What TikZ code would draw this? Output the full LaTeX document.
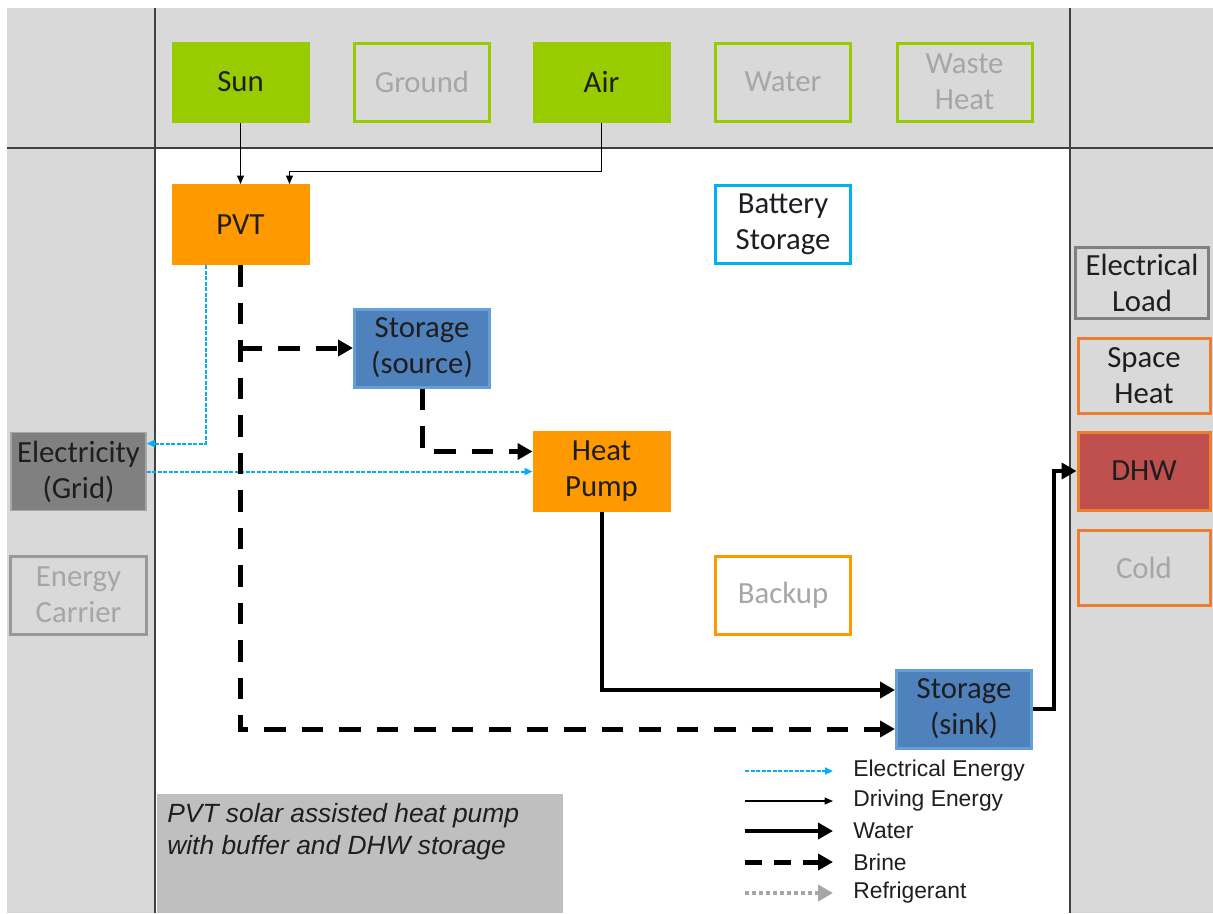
\documentclass[tikz,border=0pt]{standalone}
\usepackage{fontspec}
\setmainfont{Carlito}
\newfontfamily\arialfont{Liberation Sans}
\usetikzlibrary{positioning,arrows.meta,calc}

\definecolor{srcgreen}{RGB}{153,204,0}
\definecolor{hporange}{RGB}{255,153,0}
\definecolor{stblue}{RGB}{79,129,189}
\definecolor{stedge}{RGB}{100,160,215}
\definecolor{batblue}{RGB}{0,176,240}
\definecolor{panelgray}{RGB}{217,217,217}
\definecolor{offtext}{RGB}{166,166,166}
\definecolor{loadorange}{RGB}{237,125,49}
\definecolor{dhwred}{RGB}{192,80,77}
\definecolor{gridgray}{RGB}{128,128,128}
\definecolor{notegray}{RGB}{191,191,191}
\definecolor{rulegray}{RGB}{64,64,64}
\definecolor{inktext}{RGB}{30,30,30}

\begin{document}
\begin{tikzpicture}[
  x=0.2mm, y=-0.2mm,
  font=\fontsize{17.5}{20.5}\selectfont,
  box/.style = {
    rectangle, minimum width=27mm, minimum height=15.6mm, align=center,
    inner sep=1pt, line width=0.6mm, text=inktext,
  },
  onsrc/.style  = {box, fill=srcgreen, draw=srcgreen},
  offsrc/.style = {box, fill=panelgray, draw=srcgreen, text=offtext},
  unitbox/.style = {box, fill=hporange, draw=hporange},
  tank/.style   = {box, fill=stblue, draw=stedge},
  loadbox/.style = {box, fill=panelgray, draw=loadorange},
  drive/.style  = {-{Triangle[length=1.7mm,width=1.4mm]}, line width=0.25mm, draw=black},
  elec/.style   = {-{Triangle[length=1.6mm,width=1.4mm]}, line width=0.4mm, draw=batblue,
                   dash pattern=on 0.8mm off 0.3mm},
  water/.style  = {-{Triangle[length=3mm,width=3.2mm]}, line width=0.8mm, draw=black},
  brine/.style  = {-{Triangle[length=3mm,width=3.2mm]}, line width=1mm, draw=black,
                   dash pattern=on 4.3mm off 3.2mm},
  refrig/.style = {-{Triangle[length=3mm,width=3.2mm]}, line width=0.8mm, draw=offtext,
                   dash pattern=on 0.8mm off 0.6mm},
  legtext/.style = {font=\arialfont\fontsize{13}{15}\selectfont, text=inktext, anchor=west, inner sep=0pt},
  note/.style = {fill=notegray, inner xsep=2mm, inner ysep=1.9mm, text=inktext,
                 font=\arialfont\itshape\fontsize{15}{18.2}\selectfont},
]
  \useasboundingbox (0,0) rectangle (1213,913);

  % panels
  \fill[panelgray] (7,8) rectangle (1213,913);
  \fill[white] (155,148) rectangle (1070,913);
  \draw[rulegray, line width=0.3mm] (7,148) -- (1213,148);
  \draw[rulegray, line width=0.3mm] (155,8) -- (155,913);
  \draw[rulegray, line width=0.3mm] (1070,8) -- (1070,913);

  % sources
  \node[onsrc]  (sun)    at (240.5,82) {Sun};
  \node[offsrc] (ground) at (422,82)   {Ground};
  \node[onsrc]  (air)    at (601.5,82) {Air};
  \node[offsrc] (water)  at (783,82)   {Water};
  \node[offsrc] (waste)  at (964.5,82) {Waste\\Heat};

  % system
  \node[unitbox] (pvt)     at (240.5,224.5) {PVT};
  \node[box, fill=white, draw=batblue] (battery) at (783,224.5) {Battery\\Storage};
  \node[tank]    (source)  at (422,348)     {Storage\\(source)};
  \node[unitbox] (hp)      at (601.5,471.5) {Heat\\Pump};
  \node[box, fill=white, draw=hporange, text=offtext] (backup) at (783,595) {Backup};
  \node[tank]    (sink)    at (964,709)     {Storage\\(sink)};

  % carriers
  \node[box, fill=gridgray, draw=offtext, line width=0.3mm] (grid) at (78.5,471.5) {Electricity\\(Grid)};
  \node[box, fill=panelgray, draw=gridgray!80, text=offtext] (carrier) at (78.5,595) {Energy\\Carrier};

  % loads
  \node[box, fill=panelgray, draw=gridgray, minimum width=26.6mm, minimum height=14.2mm] (eload) at (1142,283) {Electrical\\Load};
  \node[loadbox, minimum width=26.4mm, minimum height=15mm] (space) at (1144,376) {Space\\Heat};
  \node[loadbox, fill=dhwred, minimum width=26.4mm] (dhw) at (1144,471) {DHW};
  \node[loadbox, text=offtext, minimum width=26.4mm, minimum height=15mm] (cold) at (1144,568) {Cold};

  % driving energy
  \draw[drive] (sun) -- (pvt);
  \draw[drive] (air.south) -- ++(0,49) -| ($(pvt.north)+(49,0)$);

  % electrical energy
  \draw[elec] ($(pvt.south)+(-35,0)$) |- ($(grid.east)+(0,-28)$);
  \draw[elec] (grid.east) -- (hp.west);

  % brine
  \draw[brine] (pvt.south) |- ($(sink.west)+(0,20)$);
  \draw[brine] (pvt.south |- source.west) -- (source.west);
  \draw[brine] (source.south) |- ($(hp.west)+(0,-20)$);

  % water
  \draw[water] (hp.south) |- ($(sink.west)+(0,-19)$);
  \draw[water] (sink.east) -- ++(21,0) |- (dhw.west);

  % caption
  \node[note, anchor=north west] (caption) at (157,794)
    {\parbox[t][20mm][t]{77.2mm}{PVT solar assisted heat pump\\with buffer and DHW storage}};

  % legend
  \coordinate (l1a) at (745,771); \coordinate (l1b) at (833,771);
  \coordinate (l2a) at (745,801); \coordinate (l2b) at (833,801);
  \coordinate (l3a) at (745,831); \coordinate (l3b) at (833,831);
  \coordinate (l4a) at (745,862); \coordinate (l4b) at (833,862);
  \coordinate (l5a) at (745,893); \coordinate (l5b) at (833,893);
  \draw[elec]   (l1a) -- (l1b);
  \draw[drive]  (l2a) -- (l2b);
  \draw[water]  (l3a) -- (l3b);
  \draw[brine, dash pattern=on 3.4mm off 2.4mm] (l4a) -- (l4b);
  \draw[refrig] (l5a) -- (l5b);
  \node[legtext, right=4mm of l1b] (t1) {Electrical Energy};
  \node[legtext, right=4mm of l2b] (t2) {Driving Energy};
  \node[legtext, right=4mm of l3b] (t3) {Water};
  \node[legtext, right=4mm of l4b] (t4) {Brine};
  \node[legtext, right=4mm of l5b] (t5) {Refrigerant};
\end{tikzpicture}
\end{document}
